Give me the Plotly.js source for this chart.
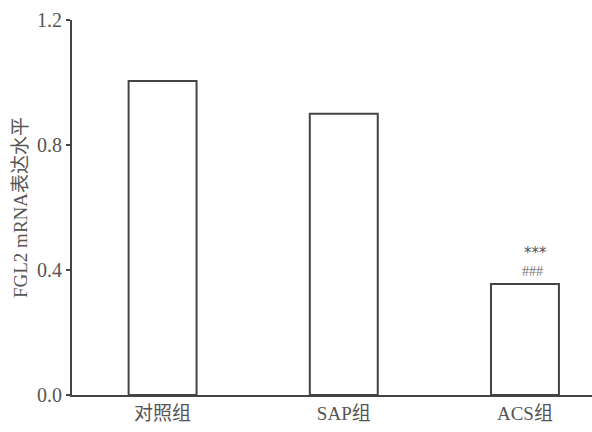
<!DOCTYPE html>
<html><head><meta charset="utf-8">
<script src="https://cdn.plot.ly/plotly-3.0.1.min.js"></script>
<style>html,body{margin:0;padding:0;background:#fff}#c{width:592px;height:432px}</style>
</head><body><div id="c"></div>
<script>
const categories = ["对照组", "SAP组", "ACS组"];
const values = [1.005, 0.9, 0.355];
const starLabels = ["", "", "***"];
const hashLabels = ["", "", "###"];
const yTicks = [0, 0.4, 0.8, 1.2];
const yTickLabels = ["0.0", "0.4", "0.8", "1.2"];

const font = "Liberation Serif, Times New Roman, Noto Sans CJK SC, serif";
const grey = "#444";

const trace = {
  type: "bar",
  x: categories,
  y: values,
  width: 0.375,
  marker: {color: "#fff", line: {color: grey, width: 2}},
  hoverinfo: "none"
};

const annotations = [];
categories.forEach((c, i) => {
  if (hashLabels[i]) annotations.push({
    x: c, y: values[i], xref: "x", yref: "y", text: hashLabels[i], showarrow: false,
    yanchor: "bottom", yshift: 3, xshift: 8,
    font: {family: font, size: 14, color: "#777"}
  });
  if (starLabels[i]) annotations.push({
    x: c, y: values[i], xref: "x", yref: "y", text: starLabels[i], showarrow: false,
    yanchor: "bottom", yshift: 20, xshift: 11,
    font: {family: "DejaVu Sans, sans-serif", size: 15, color: "#555"}
  });
});

const layout = {
  width: 592, height: 432,
  margin: {l: 72, r: 0, t: 20, b: 37},
  paper_bgcolor: "#fff", plot_bgcolor: "#fff",
  showlegend: false,
  font: {family: font, size: 18, color: "#555"},
  xaxis: {
    type: "category",
    range: [-0.5, 2.37],
    showline: true, linecolor: grey, linewidth: 2,
    ticks: "", showgrid: false, zeroline: false,
    tickfont: {family: font, size: 19, color: "#555"}
  },
  yaxis: {
    range: [0, 1.2],
    tickvals: yTicks, ticktext: yTickLabels,
    showline: true, linecolor: grey, linewidth: 2,
    ticks: "outside", ticklen: 4, tickwidth: 2, tickcolor: grey,
    showgrid: false, zeroline: false,
    tickfont: {family: font, size: 20, color: "#555"},
    title: {text: "FGL2 mRNA表达水平", font: {family: font, size: 19, color: "#555"}, standoff: 4}
  },
  annotations: annotations
};

Plotly.newPlot("c", [trace], layout, {staticPlot: true, displayModeBar: false});
</script>
</body></html>
